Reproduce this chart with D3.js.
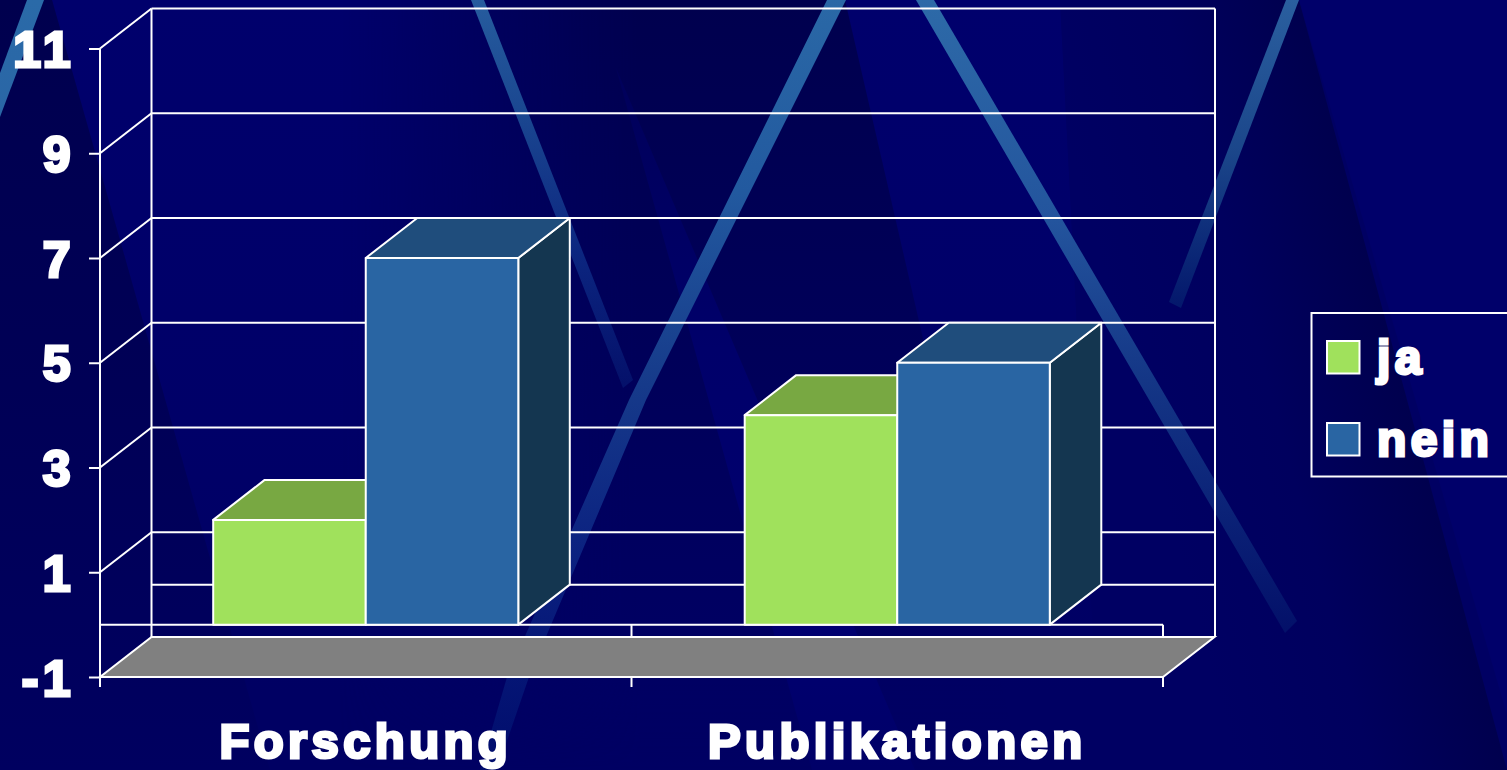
<!DOCTYPE html>
<html><head><meta charset="utf-8">
<script src="https://cdn.jsdelivr.net/npm/d3@7"></script>
<style>html,body{margin:0;padding:0;background:#000063;overflow:hidden}svg{display:block}
text{font-family:"Liberation Sans",Arial,sans-serif;font-weight:700;fill:#fff;stroke:#fff;stroke-width:3px;stroke-linejoin:miter;letter-spacing:4.4px}</style>
</head><body><svg id="c" width="1507" height="770"></svg>
<script>
const categories = ["Forschung", "Publikationen"];
const seriesNames = ["ja", "nein"];
const ja = [2, 4];
const nein = [7, 5];
const yTicks = [-1, 1, 3, 5, 7, 9, 11];
const backLines = [-1, 0, 1, 3, 5, 7, 9, 11];
const frontColors = ["#a0e15c", "#2965a3"];
const topColors = ["#78a842", "#1f4d7c"];
const sideColors = ["#72a03c", "#143650"];

const W = 1507, H = 770;
const svg = d3.select("#c");
const defs = svg.append("defs");
const depth = {dx: 51.5, dy: -40};
const y = d3.scaleLinear().domain([-1, 11]).range([677, 48.5]);
const x0 = d3.scaleBand().domain(categories).range([100, 1163]).paddingInner(0.426).paddingOuter(0.213);
const x1 = d3.scaleBand().domain(seriesNames).range([0, x0.bandwidth()]);
const poly = a => a.map(p => p.join(",")).join(" ");

/* ---------- decorative slide background ---------- */
function grad(id, x1g, y1g, x2g, y2g, stops) {
  const g = defs.append("linearGradient").attr("id", id).attr("gradientUnits", "userSpaceOnUse")
    .attr("x1", x1g).attr("y1", y1g).attr("x2", x2g).attr("y2", y2g);
  stops.forEach(s => g.append("stop").attr("offset", s[0]).attr("stop-color", s[1]).attr("stop-opacity", s[2] === undefined ? 1 : s[2]));
  return `url(#${id})`;
}
const bg = svg.append("g");
bg.append("rect").attr("width", W).attr("height", H).attr("fill", "#000063");
bg.append("polygon").attr("points", poly([[52,0],[1060,0],[1100,770],[270,770]]))
  .attr("fill", grad("gA", 0, 0, 0, 770, [[0,"#00006c"],[0.55,"#000068"],[0.9,"#000063"]]));
bg.append("polygon").attr("points", poly([[1060,0],[1299,0],[1507,770],[1100,770]]))
  .attr("fill", grad("gDr", 1149, 442, 1400, 374, [[0,"#000063"],[0.5,"#00005e"],[1,"#00004e"]]));
bg.append("polygon").attr("points", poly([[1299,0],[1507,0],[1507,715]])).attr("fill", "#00006a");
bg.append("polygon").attr("points", poly([[0,0],[52,0],[270,770],[0,770]]))
  .attr("fill", grad("gL", 0, 0, 0, 770, [[0,"#00004e"],[0.5,"#000056"],[1,"#000060"]]));
const m = defs.append("mask").attr("id", "mC").attr("maskUnits", "userSpaceOnUse")
  .attr("x", 0).attr("y", 0).attr("width", W).attr("height", H);
m.append("rect").attr("width", W).attr("height", H)
  .attr("fill", grad("gM", 340, 0, 640, 0, [[0,"#000"],[1,"#fff"]]));
bg.append("polygon").attr("points", poly([[340,0],[845,0],[921,330],[1020,770],[340,770]]))
  .attr("mask", "url(#mC)")
  .attr("fill", grad("gC", 0, 0, 0, 770, [[0,"#00004e",1],[0.5,"#00005a",1],[0.85,"#000063",1],[1,"#000063",0]]));
bg.append("polygon").attr("points", poly([[616,68],[812,770],[915,770]]))
  .attr("fill", grad("gT", 0, 68, 0, 770, [[0,"#00005a"],[0.4,"#00006a"],[0.8,"#000070"],[1,"#000068"]]));
const streaks = [
  {pts: [[27,0],[44,0],[0,117],[0,73]], g: ["s1", 0, 0, 0, 120, [[0,"#2a6aa8"],[1,"#2a66a6"]]]},
  {pts: [[471,0],[484,0],[633,380],[623,388]], g: ["s2", 0, 0, 0, 388, [[0,"#265c9e"],[0.3,"#1a4690"],[0.65,"#0c2680"],[1,"#04106a"]]]},
  {pts: [[827,0],[846,0],[646,400],[529,677],[497,770],[480,770],[507,677],[629,400]], g: ["s3", 0, 0, 0, 770, [[0,"#2a68a6"],[0.25,"#22599f"],[0.5,"#163a8a"],[0.72,"#0b2180"],[1,"#000c6c"]]]},
  {pts: [[916,0],[934,0],[1297,621],[1285,633]], g: ["s4", 0, 0, 0, 633, [[0,"#2d6aa8"],[0.35,"#23549d"],[0.6,"#143686"],[0.85,"#091e74"],[1,"#031069"]]]},
  {pts: [[1286,0],[1299,0],[1181,308],[1169,302]], g: ["s5", 0, 0, 0, 305, [[0,"#2a5f9f"],[0.5,"#1b468a"],[0.8,"#0c2a78"],[1,"#04186c"]]]}
];
streaks.forEach(s => bg.append("polygon").attr("points", poly(s.pts)).attr("fill", grad(...s.g)));

/* ---------- chart frame ---------- */
const line = {stroke: "#fff", "stroke-width": 2, fill: "none"};
const applyLine = sel => { Object.entries(line).forEach(([k, v]) => sel.attr(k, v)); return sel; };
const xL = x0.range()[0], xR = x0.range()[1];

const frame = svg.append("g");
applyLine(frame.selectAll("line.back").data(backLines).join("line").attr("class", "back"))
  .attr("x1", xL + depth.dx).attr("x2", xR + depth.dx + 0.5)
  .attr("y1", d => y(d) + depth.dy).attr("y2", d => y(d) + depth.dy);
applyLine(frame.selectAll("line.wall").data(yTicks.filter(d => d > -1)).join("line").attr("class", "wall"))
  .attr("x1", xL).attr("x2", xL + depth.dx)
  .attr("y1", d => y(d)).attr("y2", d => y(d) + depth.dy);
[xL + depth.dx, xR + depth.dx + 0.5].forEach(px => applyLine(frame.append("line"))
  .attr("x1", px).attr("x2", px).attr("y1", y(11) + depth.dy).attr("y2", y(-1) + depth.dy));

/* floor */
frame.append("polygon")
  .attr("points", poly([[xL, y(-1)], [xR, y(-1)], [xR + depth.dx, y(-1) + depth.dy], [xL + depth.dx, y(-1) + depth.dy]]))
  .attr("fill", "#808080").attr("stroke", "#fff").attr("stroke-width", 2).attr("stroke-linejoin", "miter");

/* category baseline at zero and its dividers */
const dividers = [xL, (x0(categories[1]) - x0.step() * 0.213), xR];
applyLine(frame.append("line")).attr("x1", xL).attr("x2", xR).attr("y1", y(0)).attr("y2", y(0));
applyLine(frame.selectAll("line.div").data(dividers).join("line").attr("class", "div"))
  .attr("x1", d => d).attr("x2", d => d).attr("y1", y(0)).attr("y2", y(-1) + depth.dy);
applyLine(frame.selectAll("line.tick").data(dividers).join("line").attr("class", "tick"))
  .attr("x1", d => d).attr("x2", d => d).attr("y1", y(-1)).attr("y2", y(-1) + 10);

/* ---------- bars ---------- */
const rows = categories.flatMap((c, i) => [
  {cat: c, s: 0, v: ja[i]},
  {cat: c, s: 1, v: nein[i]}
]);
const bars = svg.append("g").selectAll("g").data(rows).join("g").attr("stroke", "#fff").attr("stroke-width", 2).attr("stroke-linejoin", "round");
const bx = d => x0(d.cat) + x1(seriesNames[d.s]);
const bw = x1.bandwidth();
bars.append("polygon").attr("fill", d => sideColors[d.s]).attr("points", d => poly([
  [bx(d) + bw, y(d.v)], [bx(d) + bw + depth.dx, y(d.v) + depth.dy], [bx(d) + bw + depth.dx, y(0) + depth.dy], [bx(d) + bw, y(0)]]));
bars.append("polygon").attr("fill", d => topColors[d.s]).attr("points", d => poly([
  [bx(d), y(d.v)], [bx(d) + depth.dx, y(d.v) + depth.dy], [bx(d) + bw + depth.dx, y(d.v) + depth.dy], [bx(d) + bw, y(d.v)]]));
bars.append("rect").attr("fill", d => frontColors[d.s]).attr("x", bx).attr("width", bw)
  .attr("y", d => y(d.v)).attr("height", d => y(0) - y(d.v));

/* ---------- axes ---------- */
const yAxis = d3.axisLeft(y).tickValues(yTicks).tickSize(11).tickPadding(14).tickFormat(d => String(d));
const gy = svg.append("g").attr("transform", `translate(${xL},0)`).call(yAxis);
gy.select(".domain").remove();
gy.selectAll(".tick line").attr("stroke", "#fff").attr("stroke-width", 2);
gy.selectAll(".tick text").attr("fill", "#fff").attr("font-size", 50).attr("dy", "0.36em").style("font-family", '"Liberation Sans",Arial,sans-serif');
applyLine(svg.append("line")).attr("x1", xL).attr("x2", xL).attr("y1", y(11)).attr("y2", y(-1) + 10);

const xAxis = d3.axisBottom(x0).tickSize(0).tickPadding(0);
const gx = svg.append("g").attr("transform", `translate(0,${y(-1)})`).call(xAxis);
gx.select(".domain").remove();
gx.selectAll(".tick text").attr("fill", "#fff").attr("y", 81).attr("dy", 0).attr("font-size", 49).style("font-family", '"Liberation Sans",Arial,sans-serif');

/* ---------- legend ---------- */
const lg = svg.append("g");
applyLine(lg.append("rect")).attr("x", 1311.5).attr("y", 313).attr("width", 197).attr("height", 163.5);
const ly = d3.scalePoint().domain(seriesNames).range([357, 439]);
const li = lg.selectAll("g").data(seriesNames).join("g").attr("transform", d => `translate(0,${ly(d)})`);
li.append("rect").attr("x", 1327).attr("y", -16).attr("width", 32.5).attr("height", 32.5)
  .attr("fill", (d, i) => frontColors[i]).attr("stroke", "#fff").attr("stroke-width", 2);
li.append("text").attr("x", 1377).attr("y", 17).attr("font-size", 48).text(d => d);
</script></body></html>
